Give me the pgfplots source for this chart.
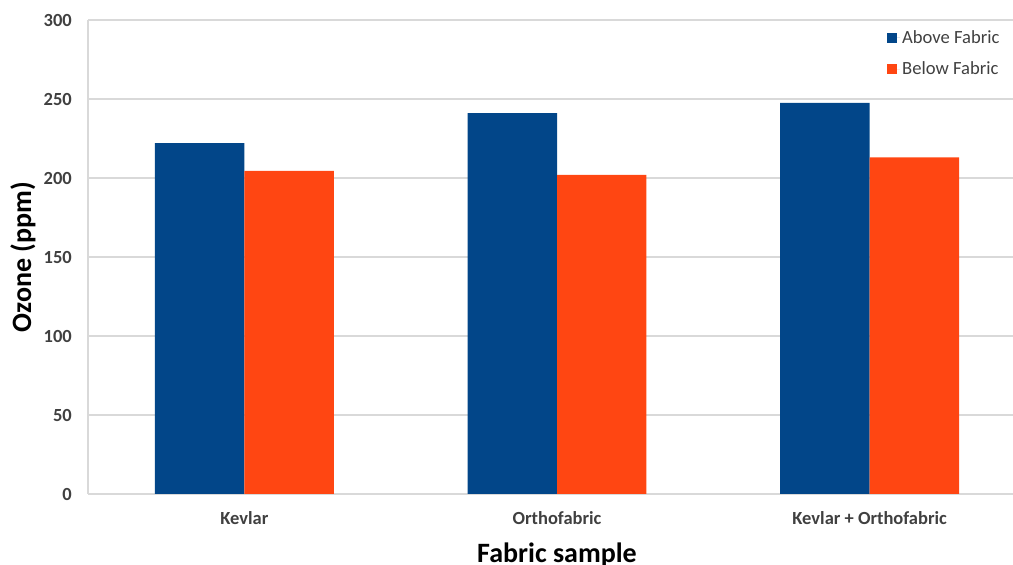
\documentclass[border=0pt]{standalone}
\usepackage{pgfplots}
\pgfplotsset{compat=1.18}
\usepackage{fontspec}
\setmainfont{Carlito}
\definecolor{barblue}{RGB}{2,70,137}
\definecolor{barorange}{RGB}{255,70,18}
\definecolor{ticktext}{RGB}{64,64,64}
\definecolor{gridgray}{RGB}{217,217,217}
\begin{document}
\begin{tikzpicture}
\begin{axis}[
  at={(88pt,71pt)}, anchor=south west,
  scale only axis, width=938pt, height=474pt,
  ybar=0pt, bar width=0.286,
  xmin=-0.5, xmax=2.5, ymin=0, ymax=300,
  enlargelimits=false,
  xtick={0,1,2},
  xticklabels={Kevlar, Orthofabric, Kevlar + Orthofabric},
  ytick={0,50,100,150,200,250,300},
  axis x line*=bottom, axis y line*=left,
  axis line style={draw=gridgray, line width=1.5pt, -},
  major tick length=0pt,
  ymajorgrids, major grid style={draw=gridgray, line width=1.3pt},
  /pgf/number format/assume math mode=true,
  tick label style={font=\fontsize{18.5}{21}\selectfont\bfseries, text=ticktext},
  yticklabel style={anchor=east, inner sep=0pt, xshift=-16pt},
  xticklabel style={anchor=base, inner sep=0pt, yshift=-31pt},
  ylabel={Ozone (ppm)},
  xlabel={Fabric sample},
  label style={font=\fontsize{28}{32}\selectfont\bfseries, text=black},
  ylabel style={at={(axis description cs:-0.0693,0.5)}, anchor=center, rotate=0},
  xlabel style={at={(axis description cs:0.5,-0.1435)}, anchor=base, inner sep=0pt},
  legend style={draw=none, fill=none, at={(axis description cs:0.8486,0.9866)}, anchor=north west,
    font=\fontsize{18.6}{21}\selectfont, text=ticktext, row sep=13pt,
    nodes={inner sep=2pt}},
  legend cell align=left,
  legend image code/.code={\fill[#1, draw=none] (0pt,-5pt) rectangle (10pt,5pt); \path (0pt,0pt) -- (13pt,0pt);},
]
\addplot[fill=barblue, draw=none] coordinates {(0,222) (1,241) (2,247.5)};
\addplot[fill=barorange, draw=none] coordinates {(0,204.5) (1,202) (2,213)};
\legend{Above Fabric, Below Fabric}
\end{axis}
\pgfresetboundingbox
\path (0,0) rectangle (1013pt,565pt);
\end{tikzpicture}
\end{document}
